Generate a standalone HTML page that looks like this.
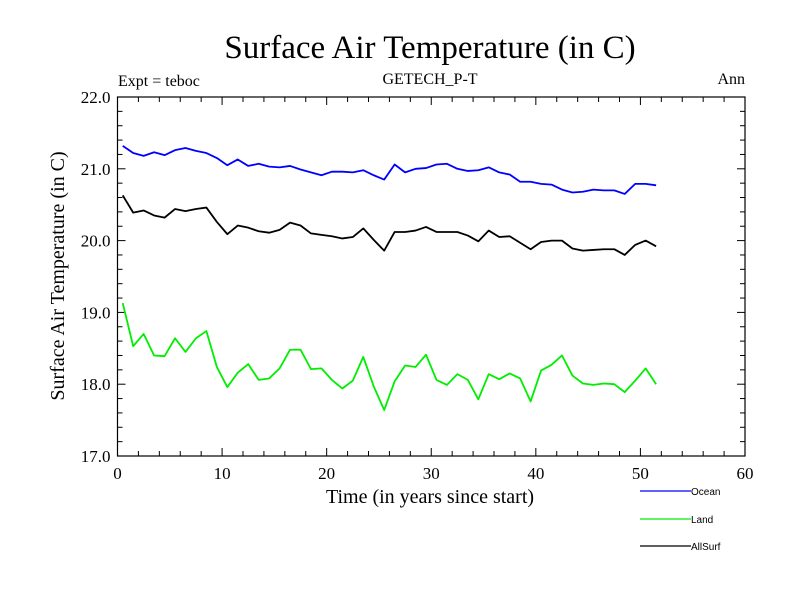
<!DOCTYPE html>
<html><head><meta charset="utf-8"><style>
body{margin:0;background:#fff;}
svg{display:block;}
text{font-family:"Liberation Serif",serif;}
</style></head><body>
<svg id="chart" width="800" height="600" viewBox="0 0 800 600">
<text x="430" y="58" font-size="33" text-anchor="middle">Surface Air Temperature (in C)</text>
<text x="118" y="86" font-size="16">Expt = teboc</text>
<text x="430" y="84" font-size="16" text-anchor="middle">GETECH_P-T</text>
<text x="745" y="84" font-size="16" text-anchor="end">Ann</text>
<text x="430" y="503" font-size="20" text-anchor="middle">Time (in years since start)</text>
<text transform="translate(64,276) rotate(-90)" font-size="20" text-anchor="middle">Surface Air Temperature (in C)</text>
<g id="axes"></g>
<g id="series"></g>
<g id="legend"></g>
</svg>
<script>
const xTicks=[0,10,20,30,40,50,60];
const yTicks=[17.0,18.0,19.0,20.0,21.0,22.0];
const years=[];for(let i=0;i<52;i++)years.push(i+0.5);
const ocean=[21.32,21.22,21.18,21.23,21.19,21.26,21.29,21.25,21.22,21.15,21.05,21.13,21.04,21.07,21.03,21.02,21.04,20.99,20.95,20.91,20.96,20.96,20.95,20.98,20.91,20.85,21.06,20.95,21.00,21.01,21.06,21.07,21.00,20.97,20.98,21.02,20.95,20.92,20.82,20.82,20.79,20.78,20.71,20.67,20.68,20.71,20.70,20.70,20.65,20.79,20.79,20.77];
const land=[19.13,18.53,18.70,18.40,18.39,18.64,18.45,18.64,18.74,18.24,17.96,18.16,18.28,18.06,18.08,18.22,18.48,18.48,18.21,18.22,18.06,17.94,18.05,18.38,17.97,17.64,18.04,18.26,18.24,18.41,18.06,17.99,18.14,18.06,17.79,18.14,18.07,18.15,18.08,17.76,18.19,18.27,18.40,18.12,18.01,17.99,18.01,18.00,17.89,18.05,18.22,18.00];
const allSurf=[20.63,20.39,20.42,20.35,20.32,20.44,20.41,20.44,20.46,20.26,20.09,20.21,20.18,20.13,20.11,20.15,20.25,20.21,20.10,20.08,20.06,20.03,20.05,20.17,20.01,19.86,20.12,20.12,20.14,20.19,20.12,20.12,20.12,20.07,19.99,20.14,20.05,20.06,19.97,19.88,19.98,20.00,20.00,19.89,19.86,19.87,19.88,19.88,19.80,19.94,20.00,19.92];
const seriesNames=["Ocean","Land","AllSurf"];
const L=117.5,R=745,T=97,B=456;
const X=v=>L+(v-0)/(60-0)*(R-L);
const Y=v=>B-(v-17)/(22-17)*(B-T);
const NS="http://www.w3.org/2000/svg";
function mk(tag,attrs,parent){const e=document.createElementNS(NS,tag);for(const k in attrs)e.setAttribute(k,attrs[k]);parent.appendChild(e);return e;}
const axes=document.getElementById('axes');
const frame=mk('rect',{x:L,y:T,width:R-L,height:B-T,fill:'none',stroke:'#000','stroke-width':1.2},axes);


for(let v=0;v<=60;v+=2){const maj=v%10===0,len=maj?8:5,x=X(v);
 mk('line',{x1:x,y1:B,x2:x,y2:B-len,stroke:'#000'},axes);
 mk('line',{x1:x,y1:T,x2:x,y2:T+len,stroke:'#000'},axes);}
for(let i=0;i<=25;i++){const v=17+i*0.2,maj=i%5===0,len=maj?8:5,y=Y(v);
 mk('line',{x1:L,y1:y,x2:L+len,y2:y,stroke:'#000'},axes);
 mk('line',{x1:R,y1:y,x2:R-len,y2:y,stroke:'#000'},axes);}
xTicks.forEach(v=>{const t=mk('text',{x:X(v),y:B+23,'font-size':17,'text-anchor':'middle'},axes);t.textContent=v;
 
 });
yTicks.forEach(v=>{const t=mk('text',{x:L-7,y:Y(v)+6,'font-size':17,'text-anchor':'end'},axes);t.textContent=v.toFixed(1);
 
 });
const sg=document.getElementById('series');
const colors=['#0000ff','#00ee00','#000000'];
[ocean,land,allSurf].forEach((arr,si)=>{
 const p=mk('polyline',{points:arr.map((v,i)=>X(years[i])+','+Y(v)).join(' '),fill:'none',stroke:colors[si],'stroke-width':1.8,'stroke-linejoin':'round'},sg);
 
 
});
const lg=document.getElementById('legend');
const ly=[491,519,546];
seriesNames.forEach((n,i)=>{
 const g=mk('g',{},lg);
 
 
 mk('line',{x1:640,y1:ly[i],x2:691,y2:ly[i],stroke:colors[i],'stroke-width':1.3},g);
 const t=mk('text',{x:691,y:ly[i]+4,'font-size':10,style:'font-family:"Liberation Sans",sans-serif'},g);t.textContent=n;
});
</script>
</body></html>
